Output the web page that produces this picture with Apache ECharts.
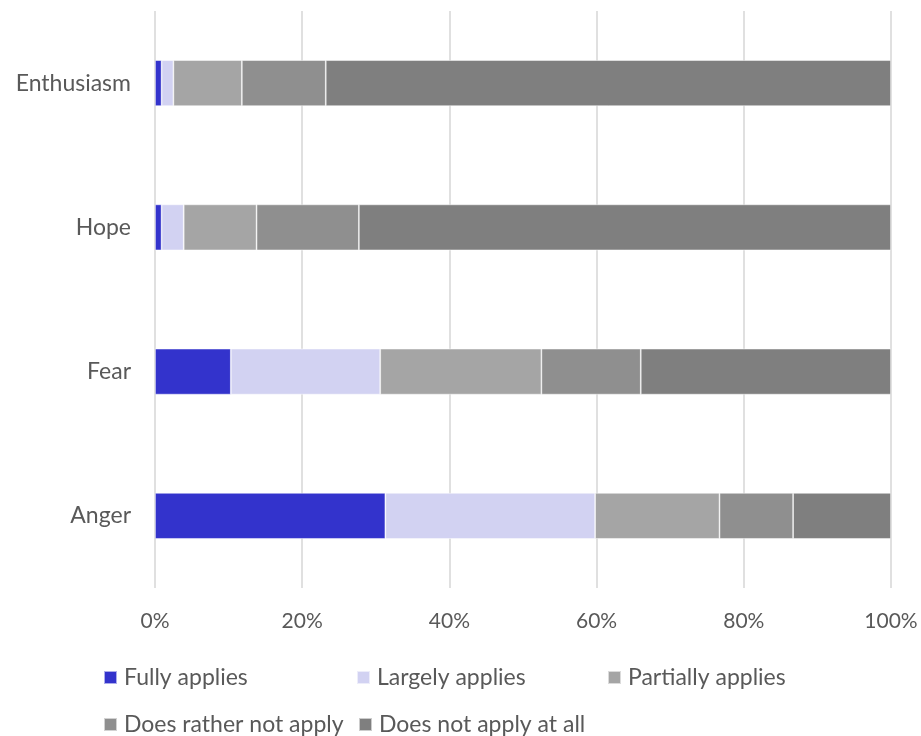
<!DOCTYPE html>
<html>
<head>
<meta charset="utf-8">
<script src="https://cdn.jsdelivr.net/npm/echarts@6/dist/echarts.min.js"></script>
<style>
  html, body { margin: 0; padding: 0; background: #fff; }
  #chart { width: 921px; height: 736px; }
</style>
</head>
<body>
<div id="chart"></div>
<script>
// Emotions, listed bottom to top on the category axis
const categories = ['Anger', 'Fear', 'Hope', 'Enthusiasm'];

// Share of respondents (%) per answer option, in the order of categories
const fullyApplies      = [31.3, 10.3, 0.9, 0.9];
const largelyApplies    = [28.5, 20.3, 3.0, 1.6];
const partiallyApplies  = [16.9, 21.9, 9.9, 9.3];
const ratherNotApply    = [10.0, 13.5, 13.9, 11.4];
const notApplyAtAll     = [13.3, 34.0, 72.3, 76.8];

const seriesNames = ['Fully applies', 'Largely applies', 'Partially applies',
                     'Does rather not apply', 'Does not apply at all'];
const seriesValues = [fullyApplies, largelyApplies, partiallyApplies, ratherNotApply, notApplyAtAll];
const seriesColors = ['#3333CC', '#D2D2F2', '#A5A5A5', '#8F8F8F', '#7F7F7F'];

const xTicks = { min: 0, max: 100, interval: 20 };

const FONT = 'Lato, "Open Sans", sans-serif';
const TEXT = '#595959';

// Legend entries are laid out in two rows, one legend block per entry
const legendSlots = [
  { left: 103, top: 666 }, { left: 356, top: 666 }, { left: 607, top: 666 },
  { left: 103, top: 713 }, { left: 358, top: 713 }
];

const chart = echarts.init(document.getElementById('chart'), null, { renderer: 'canvas' });

chart.setOption({
  animation: false,
  backgroundColor: '#ffffff',
  color: seriesColors,
  grid: { left: 155, right: 30, top: 11, bottom: 148, containLabel: false },
  legend: seriesNames.map((name, i) => ({
    left: legendSlots[i].left,
    top: legendSlots[i].top,
    padding: 0,
    orient: 'horizontal',
    itemWidth: 13,
    itemHeight: 13,
    icon: 'rect',
    selectedMode: false,
    data: [name],
    textStyle: { color: TEXT, fontFamily: FONT, fontSize: 23, padding: [0, 0, 0, 2] }
  })),
  xAxis: {
    type: 'value',
    min: xTicks.min,
    max: xTicks.max,
    interval: xTicks.interval,
    axisLine: { show: false },
    axisTick: { show: false },
    splitLine: { show: true, lineStyle: { color: '#D9D9D9', width: 1.6 } },
    axisLabel: {
      formatter: '{value}%',
      color: TEXT, fontFamily: FONT, fontSize: 21, margin: 23
    }
  },
  yAxis: {
    type: 'category',
    data: categories,
    axisLine: { show: false },
    axisTick: { show: false },
    axisLabel: { color: TEXT, fontFamily: FONT, fontSize: 23, margin: 24 }
  },
  series: seriesNames.map((name, i) => ({
    name: name,
    type: 'bar',
    stack: 'total',
    barWidth: 46,
    data: seriesValues[i],
    itemStyle: { color: seriesColors[i], borderColor: 'rgba(255,255,255,0.6)', borderWidth: 0.8 }
  }))
});
</script>
</body>
</html>
